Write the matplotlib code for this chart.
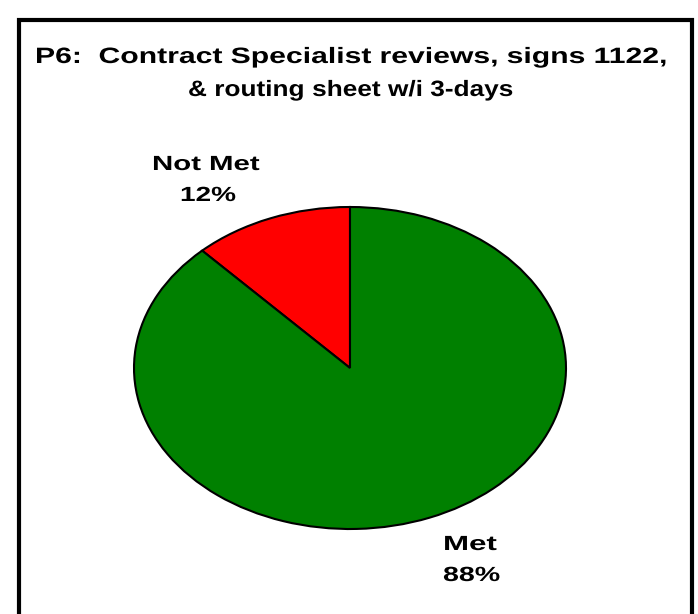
import re
import matplotlib.pyplot as plt
from matplotlib.patches import Rectangle
from matplotlib.transforms import Affine2D
from matplotlib.font_manager import FontProperties
from matplotlib import patheffects

labels = ["Not Met", "Met"]
values = [12, 88]
colors = ["#FF0000", "#008000"]
title_lines = ["P6:  Contract Specialist reviews, signs 1122,",
               "& routing sheet w/i 3-days"]

plt.rcParams['font.family'] = ['Liberation Sans', 'DejaVu Sans']

W, H = 698, 614
fig = plt.figure(figsize=(W / 100, H / 100), dpi=100)
renderer = fig.canvas.get_renderer()


def fy(py):
    # pixel row (from top) -> figure fraction
    return 1 - py / H


class SquashY(patheffects.AbstractPathEffect):
    # source image is stretched sideways: use a font as wide as the original
    # and flatten it back to the original height around the baseline
    def __init__(self, sy, cy):
        super().__init__()
        self.sy, self.cy = sy, cy

    def draw_path(self, renderer, gc, tpath, affine, rgbFace=None):
        t = affine + Affine2D().translate(0, -self.cy).scale(1, self.sy).translate(0, self.cy)
        renderer.draw_path(gc, tpath, t, rgbFace)


def wide_text(x0, x1, base, s, size):
    fp0 = FontProperties(family=["Liberation Sans", "DejaVu Sans"], weight="bold", size=size)
    w0 = renderer.get_text_width_height_descent(s, fp0, ismath=False)[0]
    sx = (x1 - x0) / w0
    fp = FontProperties(family=["Liberation Sans", "DejaVu Sans"], weight="bold", size=size * sx)

    def wid(t):
        return renderer.get_text_width_height_descent(t, fp, ismath=False)[0]

    cy = H - base
    for m in re.finditer(r"\S+", s):
        word = m.group()
        left = wid(s[:m.end()]) - wid(word)
        t = fig.text((x0 + left) / W, fy(base), word, ha="left", va="baseline",
                     fontproperties=fp)
        t.set_path_effects([SquashY(1 / sx, cy)])


# frame around the chart area (bottom edge cut off like the reference)
fig.patches.append(Rectangle((19 / W, -0.05), 673 / W, 1.05 - 20 / H,
                             transform=fig.transFigure, fill=False,
                             edgecolor="black", linewidth=3))

wide_text(35, 667, 63, title_lines[0], 16)
wide_text(188, 512, 96, title_lines[1], 16)

# pie is drawn as an ellipse, like the original
ax = fig.add_axes([134 / W, fy(529), 432 / W, 322 / H])
wedges, _ = ax.pie(values, colors=colors, startangle=90, counterclock=True,
                   wedgeprops=dict(edgecolor="black", linewidth=1.5))
ax.set_aspect("auto")
ax.set_xlim(-1, 1)
ax.set_ylim(-1, 1)
ax.axis("off")

# (left, right, baseline) of name and percent lines, in pixels
label_boxes = [((152, 260, 170), (180, 236, 201)),
               ((443, 497, 550), (443, 500, 581))]
for lab, v, (b1, b2) in zip(labels, values, label_boxes):
    wide_text(b1[0], b1[1], b1[2], lab, 14.75)
    wide_text(b2[0], b2[1], b2[2], f"{v}%", 14.75)

fig.savefig("out.png", dpi=100)
